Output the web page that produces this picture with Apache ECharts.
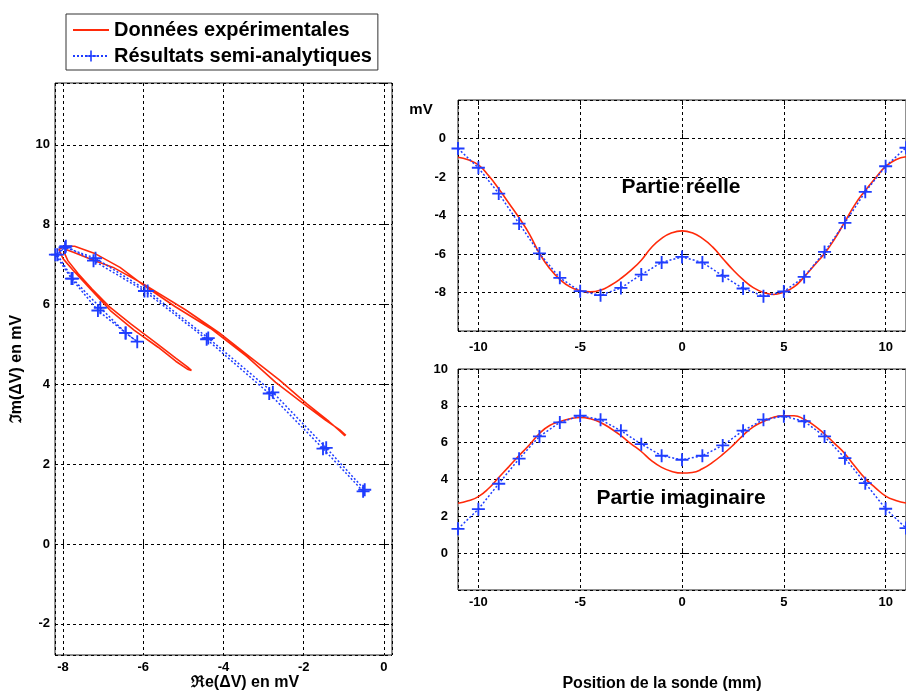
<!DOCTYPE html>
<html><head><meta charset="utf-8">
<script src="https://cdn.jsdelivr.net/npm/echarts@6/dist/echarts.min.js"></script>
<style>html,body{margin:0;padding:0;background:#fff}#c{width:906px;height:693px}</style>
</head><body><div id="c"></div>
<script>
// Probe positions (mm) of the semi-analytic results
const semiPos = [-11,-10,-9,-8,-7,-6,-5,-4,-3,-2,-1,0,1,2,3,4,5,6,7,8,9,10,11];
const semiRe  = [-0.52,-1.52,-2.86,-4.42,-5.97,-7.24,-7.93,-8.14,-7.76,-7.07,-6.44,-6.15,-6.44,-7.13,-7.79,-8.19,-7.95,-7.19,-5.89,-4.38,-2.77,-1.44,-0.48];
const semiIm  = [1.32,2.39,3.77,5.13,6.34,7.10,7.46,7.25,6.65,5.92,5.29,5.07,5.29,5.85,6.65,7.25,7.43,7.16,6.34,5.16,3.80,2.41,1.36];
// Experimental data
const expPos = [-11,-10.5,-10,-9.5,-9,-8.5,-8,-7.5,-7,-6.5,-6,-5.5,-5,-4.5,-4,-3.5,-3,-2.5,-2,-1.5,-1,-0.5,0,0.5,1,1.5,2,2.5,3,3.5,4,4.5,5,5.5,6,6.5,7,7.5,8,8.5,9,9.5,10,10.5,11];
const expRe  = [-0.97,-1.11,-1.37,-1.92,-2.61,-3.36,-4.12,-4.95,-5.97,-6.75,-7.32,-7.71,-7.91,-7.97,-7.88,-7.62,-7.27,-6.84,-6.32,-5.66,-5.19,-4.90,-4.80,-4.90,-5.19,-5.63,-6.23,-6.82,-7.33,-7.75,-8.00,-8.10,-7.97,-7.71,-7.19,-6.58,-5.97,-5.21,-4.32,-3.42,-2.70,-2.05,-1.45,-1.10,-0.95];
const expIm  = [2.71,2.84,3.07,3.51,4.11,4.70,5.30,5.87,6.50,6.93,7.14,7.30,7.37,7.30,7.10,6.77,6.38,5.94,5.52,5.02,4.66,4.44,4.35,4.38,4.58,4.93,5.36,5.85,6.40,6.86,7.15,7.38,7.46,7.46,7.27,6.93,6.47,5.95,5.40,4.70,4.05,3.55,3.10,2.86,2.72];
const seriesNames = ['Données expérimentales', 'Résultats semi-analytiques'];

const zip = (a, b) => a.map((v, i) => [v, b[i]]);

const FONT = '"Liberation Sans", Arial, sans-serif';
const RED = '#ff2a0a', BLUE = '#1f3dff';
const PLUS = 'path://M6,0H8V6H14V8H8V14H6V8H0V6H6Z';
const split = {show: true, lineStyle: {color: '#000', type: [3, 3], width: 1}};
const tick = {show: true, inside: true, length: 5, lineStyle: {color: '#000'}};
const lab = (m, showMax) => ({color: '#000', fontFamily: FONT, fontWeight: 'bold', fontSize: 13, margin: m, showMinLabel: false, showMaxLabel: !!showMax});

function xax(g, min, max, sn, pos, m) {
  const main = pos === 'bottom';
  return {type: 'value', gridIndex: g, position: pos, min, max, splitNumber: sn,
    axisLine: {show: false}, axisTick: tick, splitLine: main ? split : {show: false},
    axisLabel: main ? lab(m) : {show: false}};
}
function yax(g, min, max, sn, pos, m, showMax) {
  const main = pos === 'left';
  return {type: 'value', gridIndex: g, position: pos, min, max, splitNumber: sn,
    axisLine: {show: false}, axisTick: tick, splitLine: main ? split : {show: false},
    axisLabel: main ? lab(m, showMax) : {show: false}};
}
const gridBase = {show: true, borderColor: '#222', borderWidth: 1, backgroundColor: 'transparent', containLabel: false};

const redLine = {color: RED, width: 1.6};
const blueLine = {color: BLUE, width: 1.5, type: [2, 2]};

const option = {
  animation: false,
  backgroundColor: '#fff',
  grid: [
    Object.assign({left: 55, top: 83, width: 337, height: 572}, gridBase),
    Object.assign({left: 458, top: 100, width: 448, height: 231}, gridBase),
    Object.assign({left: 458, top: 369, width: 448, height: 221}, gridBase)
  ],
  xAxis: [
    xax(0, -8.2, 0.2, 4, 'bottom', 6),
    xax(1, -11, 11, 4, 'bottom', 10),
    xax(2, -11, 11, 4, 'bottom', 6),
    xax(0, -8.2, 0.2, 4, 'top'),
    xax(1, -11, 11, 4, 'top'),
    xax(2, -11, 11, 4, 'top')
  ],
  yAxis: [
    yax(0, -2.78, 11.55, 7, 'left', 5),
    yax(1, -10, 2, 6, 'left', 12),
    yax(2, -2, 10, 6, 'left', 10, true),
    yax(0, -2.78, 11.55, 7, 'right')
  ],
  legend: {
    orient: 'vertical', left: 66, top: 14,
    data: [{name: seriesNames[0], itemStyle: {opacity: 0}}, {name: seriesNames[1]}],
    itemWidth: 36, itemHeight: 14, itemGap: 6,
    borderColor: '#333', borderWidth: 1, padding: [6, 6, 4, 6],
    textStyle: {fontFamily: FONT, fontWeight: 'bold', fontSize: 20, color: '#000'}
  },
  series: [
    {name: seriesNames[0], type: 'line', xAxisIndex: 0, yAxisIndex: 0, data: zip(expRe, expIm), symbol: 'none', smooth: false, lineStyle: redLine, itemStyle: {color: RED}, z: 3},
    {name: seriesNames[1], type: 'line', xAxisIndex: 0, yAxisIndex: 0, data: zip(semiRe, semiIm), symbol: PLUS, symbolSize: 13, lineStyle: blueLine, itemStyle: {color: BLUE}, z: 4},
    {name: seriesNames[0], type: 'line', xAxisIndex: 1, yAxisIndex: 1, data: zip(expPos, expRe), symbol: 'none', smooth: true, lineStyle: redLine, itemStyle: {color: RED}, z: 3},
    {name: seriesNames[1], type: 'line', xAxisIndex: 1, yAxisIndex: 1, data: zip(semiPos, semiRe), symbol: PLUS, symbolSize: 13, lineStyle: blueLine, itemStyle: {color: BLUE}, z: 4},
    {name: seriesNames[0], type: 'line', xAxisIndex: 2, yAxisIndex: 2, data: zip(expPos, expIm), symbol: 'none', smooth: true, lineStyle: redLine, itemStyle: {color: RED}, z: 3},
    {name: seriesNames[1], type: 'line', xAxisIndex: 2, yAxisIndex: 2, data: zip(semiPos, semiIm), symbol: PLUS, symbolSize: 13, lineStyle: blueLine, itemStyle: {color: BLUE}, z: 4}
  ],
  graphic: [
    {type: 'text', x: 681, y: 187, z: 10, style: {text: 'Partie réelle', font: 'bold 21px ' + FONT, fill: '#000', align: 'center', verticalAlign: 'middle'}},
    {type: 'text', x: 681, y: 498, z: 10, style: {text: 'Partie imaginaire', font: 'bold 21px ' + FONT, fill: '#000', align: 'center', verticalAlign: 'middle'}},
    {type: 'text', x: 421, y: 110, style: {text: 'mV', font: 'bold 15px ' + FONT, fill: '#000', align: 'center', verticalAlign: 'middle'}},
    {type: 'text', x: 662, y: 684, style: {text: 'Position de la sonde (mm)', font: 'bold 16px ' + FONT, fill: '#000', align: 'center', verticalAlign: 'middle'}},
    {type: 'text', x: 245, y: 683, style: {text: 'ℜe(ΔV) en mV', font: 'bold 16px ' + FONT, fill: '#000', align: 'center', verticalAlign: 'middle'}},
    {type: 'text', x: 17, y: 369, rotation: Math.PI / 2, style: {text: 'ℑm(ΔV) en mV', font: 'bold 16px ' + FONT, fill: '#000', align: 'center', verticalAlign: 'middle'}}
  ]
};
const chart = echarts.init(document.getElementById('c'));
chart.setOption(option);
</script>
</body></html>
